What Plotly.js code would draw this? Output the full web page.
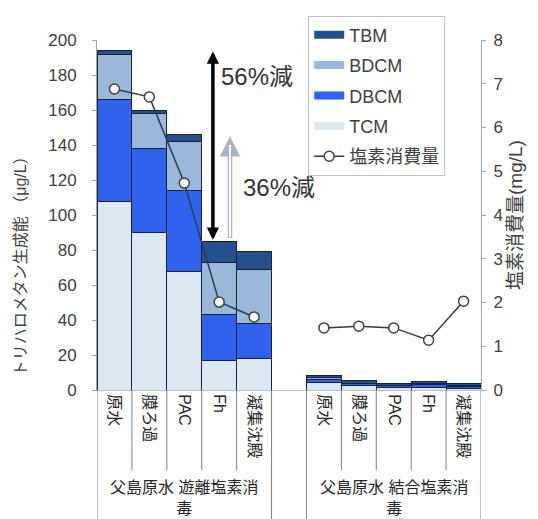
<!DOCTYPE html>
<html>
<head>
<meta charset="utf-8">
<script src="https://cdn.plot.ly/plotly-3.0.1.min.js"></script>
<style>html,body{margin:0;padding:0;background:#fff;}#chart{width:538px;height:519px;}</style>
</head>
<body>
<div id="chart"></div>
<script>
// ---- data ----
const xPos = [0, 1, 2, 3, 4, 6, 7, 8, 9, 10];
const stepLabels = ["原水", "膜ろ過", "PAC", "Fh", "凝集沈殿", "原水", "膜ろ過", "PAC", "Fh", "凝集沈殿"];
const groupLabels = ["父島原水 遊離塩素消<br>毒", "父島原水 結合塩素消<br>毒"];
const groupCenters = [2, 8];
const TCM  = [108, 90, 68, 17, 18, 4.5, 2.5, 1.5, 1.5, 1.0];
const DBCM = [58, 48, 46, 26, 20, 1.5, 1.0, 1.0, 1.5, 1.0];
const BDCM = [26, 20, 28, 30, 31, 1.0, 0.5, 0.3, 0.5, 0.3];
const TBM  = [2, 2, 4, 12, 10, 1.5, 1.2, 1.2, 1.5, 1.7];
const chlorineX = [0, 1, 2, 3, 4, 5, 6, 7, 8, 9, 10];
const chlorine = [6.88, 6.70, 4.73, 2.01, 1.67, null, 1.42, 1.46, 1.42, 1.14, 2.03];
const seriesNames = ["TCM", "DBCM", "BDCM", "TBM"];
const seriesColors = ["#dce9f3", "#2f63ee", "#9bb8da", "#25508c"];
const seriesValues = [TCM, DBCM, BDCM, TBM];
const lineName = "塩素消費量";
const leftTitle = "トリハロメタン生成能 （μg/L）";
const rightTitle = "塩素消費量(mg/L)";

const FONT = "Liberation Sans, Arial, Noto Sans CJK JP, sans-serif";
const traces = [];
// legend proxies (top-down order as in reference)
for (let k = 3; k >= 0; k--) {
  traces.push({
    type: "scatter", mode: "lines", x: [null], y: [null],
    name: seriesNames[k], legendgroup: seriesNames[k],
    line: {color: seriesColors[k], width: 8},
    hoverinfo: "skip"
  });
}
traces.push({
  type: "scatter", mode: "lines+markers", x: chlorineX, y: chlorine, yaxis: "y2",
  name: lineName, legendgroup: lineName, connectgaps: false,
  line: {color: "#2b3a55", width: 1.5},
  marker: {symbol: "circle", size: 10, color: "#ffffff", line: {color: "#404040", width: 1.5}}
});
for (let k = 0; k < 4; k++) {
  traces.push({
    type: "bar", x: xPos, y: seriesValues[k], name: seriesNames[k],
    legendgroup: seriesNames[k], showlegend: false, width: 1,
    marker: {color: seriesColors[k], line: {color: "#17213a", width: 1}}
  });
}

const shapes = [];
// inner dividers
[0.5, 1.5, 2.5, 3.5, 6.5, 7.5, 8.5, 9.5].forEach(v => shapes.push({
  type: "line", xref: "x", yref: "paper", x0: v, x1: v, y0: 0, y1: -0.229,
  line: {color: "#7f7f7f", width: 1}
}));
// outer dividers
[-0.5, 4.5, 5.5, 10.5].forEach(v => shapes.push({
  type: "line", xref: "x", yref: "paper", x0: v, x1: v, y0: 0, y1: -0.4,
  line: {color: "#7f7f7f", width: 1}
}));

const annotations = [];
groupCenters.forEach((c, i) => annotations.push({
  xref: "x", yref: "paper", x: c, y: -0.248, xanchor: "center", yanchor: "top",
  text: groupLabels[i], showarrow: false, align: "center",
  font: {family: FONT, size: 16, color: "#262626"}
}));
// left axis title (positioned as in reference, lower than centre)
annotations.push({
  xref: "paper", yref: "paper", x: -0.2005, y: 0.365, xanchor: "center", yanchor: "middle",
  text: leftTitle, textangle: -90, showarrow: false,
  font: {family: FONT, size: 16, color: "#404040"}
});
// black double arrow
annotations.push({
  xref: "x", yref: "y", axref: "x", ayref: "y", x: 2.82, y: 193.5, ax: 2.82, ay: 85,
  text: "", showarrow: true, arrowhead: 2, startarrowhead: 2, arrowside: "end+start",
  arrowsize: 0.7, startarrowsize: 0.7, arrowwidth: 3.5, arrowcolor: "#000000"
});
// light outlined arrow
annotations.push({
  xref: "x", yref: "y", axref: "x", ayref: "y", x: 3.31, y: 145, ax: 3.31, ay: 86,
  text: "", showarrow: true, arrowhead: 2, arrowsize: 0.9, arrowwidth: 4.5, arrowcolor: "#a9b4c0"
});
annotations.push({
  xref: "x", yref: "y", axref: "x", ayref: "y", x: 3.31, y: 140, ax: 3.31, ay: 86.5,
  text: "", showarrow: true, arrowhead: 0, arrowwidth: 2, arrowcolor: "#ffffff"
});
annotations.push({
  xref: "x", yref: "y", x: 3.0, y: 179, xanchor: "left", yanchor: "middle",
  text: "56%減", showarrow: false, font: {family: FONT, size: 24, color: "#333333"}
});
annotations.push({
  xref: "x", yref: "y", x: 3.63, y: 116, xanchor: "left", yanchor: "middle",
  text: "36%減", showarrow: false, font: {family: FONT, size: 24, color: "#333333"}
});

const axisStyle = {
  showgrid: false, zeroline: false, showline: true, linecolor: "#a6a6a6", linewidth: 1,
  ticks: "outside", ticklen: 4, tickcolor: "#a6a6a6",
  tickfont: {family: FONT, size: 17, color: "#404040"}
};

const layout = {
  width: 538, height: 519,
  margin: {l: 97, r: 57, t: 40, b: 129},
  paper_bgcolor: "#ffffff", plot_bgcolor: "#ffffff",
  barmode: "stack", bargap: 0,
  font: {family: FONT, color: "#404040"},
  xaxis: {
    range: [-0.5, 10.5], tickmode: "array", tickvals: xPos, ticktext: stepLabels,
    tickangle: 90, showgrid: false, zeroline: false, showline: true,
    linecolor: "#bfbfbf", ticks: "", tickfont: {family: FONT, size: 16, color: "#262626"}
  },
  yaxis: Object.assign({}, axisStyle, {
    range: [0, 200], dtick: 20, ticklabelstandoff: 12
  }),
  yaxis2: Object.assign({}, axisStyle, {
    range: [0, 8], dtick: 1, overlaying: "y", side: "right", ticklabelstandoff: 4,
    title: {text: rightTitle, font: {family: FONT, size: 19, color: "#404040"}, standoff: 6}
  }),
  showlegend: true,
  legend: {
    x: 0.55, y: 1.07, xanchor: "left", yanchor: "top",
    bgcolor: "#ffffff", bordercolor: "#bfbfbf", borderwidth: 1,
    traceorder: "grouped", tracegroupgap: 4,
    font: {family: FONT, size: 18, color: "#404040"}
  },
  shapes: shapes,
  annotations: annotations
};

Plotly.newPlot("chart", traces, layout, {displayModeBar: false, staticPlot: true});
</script>
</body>
</html>
